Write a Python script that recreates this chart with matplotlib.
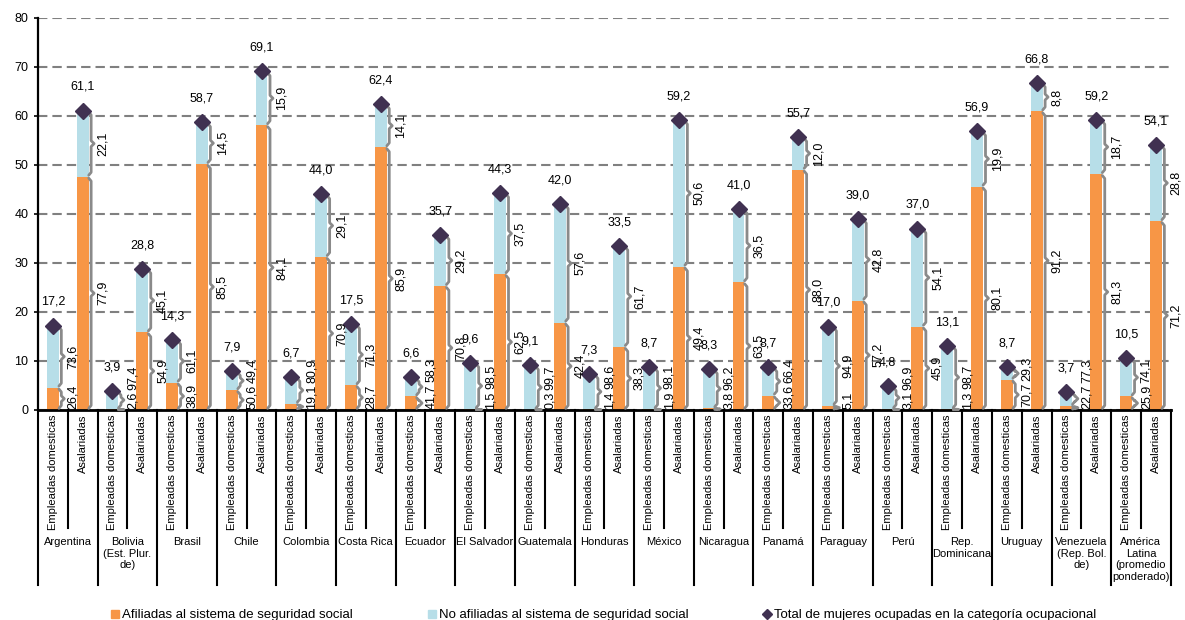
import matplotlib
matplotlib.use("Agg")
import matplotlib.pyplot as plt
from matplotlib.lines import Line2D
import numpy as np

plt.rcParams['font.family'] = ['Liberation Sans', 'DejaVu Sans']

countries = ["Argentina", "Bolivia\n(Est. Plur.\nde)", "Brasil", "Chile", "Colombia", "Costa Rica",
             "Ecuador", "El Salvador", "Guatemala", "Honduras", "México", "Nicaragua", "Panamá",
             "Paraguay", "Perú", "Rep.\nDominicana", "Uruguay", "Venezuela\n(Rep. Bol.\nde)",
             "América\nLatina\n(promedio\nponderado)"]
categories = ["Empleadas domesticas", "Asalariadas"]

# total de mujeres ocupadas (%)
total_dom = [17.2, 3.9, 14.3, 7.9, 6.7, 17.5, 6.6, 9.6, 9.1, 7.3, 8.7, 8.3, 8.7, 17.0, 4.8, 13.1, 8.7, 3.7, 10.5]
total_asal = [61.1, 28.8, 58.7, 69.1, 44.0, 62.4, 35.7, 44.3, 42.0, 33.5, 59.2, 41.0, 55.7, 39.0, 37.0, 56.9, 66.8, 59.2, 54.1]
# share affiliated / not affiliated within each category (%)
afil_dom = [26.4, 2.6, 38.9, 50.6, 19.1, 28.7, 41.7, 1.5, 0.3, 1.4, 1.9, 3.8, 33.6, 5.1, 3.1, 1.3, 70.7, 22.7, 25.9]
noafil_dom = [73.6, 97.4, 61.1, 49.4, 80.9, 71.3, 58.3, 98.5, 99.7, 98.6, 98.1, 96.2, 66.4, 94.9, 96.9, 98.7, 29.3, 77.3, 74.1]
afil_asal = [77.9, 54.9, 85.5, 84.1, 70.9, 85.9, 70.8, 62.5, 42.4, 38.3, 49.4, 63.5, 88.0, 57.2, 45.9, 80.1, 91.2, 81.3, 71.2]
noafil_asal = [22.1, 45.1, 14.5, 15.9, 29.1, 14.1, 29.2, 37.5, 57.6, 61.7, 50.6, 36.5, 12.0, 42.8, 54.1, 19.9, 8.8, 18.7, 28.8]

ORANGE = '#F79646'
BLUE = '#B7DEE8'
PURPLE = '#403151'
GRAY = '#8a8a8a'


def fmt(v):
    return f"{v:.1f}".replace('.', ',')


# interleave the two categories per country
total = np.ravel(np.column_stack([total_dom, total_asal]))
p_afil = np.ravel(np.column_stack([afil_dom, afil_asal]))
p_noafil = np.ravel(np.column_stack([noafil_dom, noafil_asal]))
orange = total * p_afil / 100
blue = total - orange
x = np.arange(len(total))

fig = plt.figure(figsize=(11.85, 6.2), dpi=100)
ax = fig.add_axes([0.032, 0.339, 0.956, 0.632])

ax.set_ylim(0, 80)
ax.set_xlim(-0.5, len(total) - 0.5)
ax.set_yticks(np.arange(0, 81, 10))
ax.yaxis.grid(True, color='#808080', linestyle=(0, (4.5, 2.4)), linewidth=1.5)
ax.set_axisbelow(True)
for s in ['top', 'right']:
    ax.spines[s].set_visible(False)
ax.spines['left'].set_linewidth(1.6)
ax.spines['bottom'].set_linewidth(2.0)
ax.tick_params(axis='y', labelsize=9, length=3, width=1.2, pad=4)
ax.set_xticks([])

bw = 0.4
ax.bar(x, orange, bw, color=ORANGE, zorder=2)
ax.bar(x, blue, bw, bottom=orange, color=BLUE, zorder=2)
ax.plot(x, total, linestyle='none', marker='D', markersize=8.2, color=PURPLE, zorder=5)

for xi, t in zip(x, total):
    ax.annotate(fmt(t), (xi, t), xytext=(0, 17), textcoords='offset points',
                ha='center', va='center', fontsize=9, zorder=6)


def brace(xc, y0, y1):
    r = min(0.6, (y1 - y0) / 4)
    ins = min(0.3, (y1 - y0) / 6)
    y0, y1 = y0 + ins, y1 - ins
    ym = (y0 + y1) / 2
    xs = [xc - 0.08, xc, xc, xc + 0.1, xc, xc, xc - 0.08]
    ys = [y0, y0 + r, ym - r, ym, ym + r, y1 - r, y1]
    ax.plot(xs, ys, color=GRAY, linewidth=2.0, solid_joinstyle='round',
            solid_capstyle='round', zorder=3, clip_on=False)


def label_h(s):
    # approximate rotated text height in data units (9 pt)
    em = (0.556 * (len(s) - 1) + 0.278) * 12.5
    return em / (392 / 80)


for xi, o, b, po, pb in zip(x, orange, blue, p_afil, p_noafil):
    bx = xi + bw / 2 + 0.085
    brace(bx, 0, o)
    brace(bx, o, o + b)
    so, sb = fmt(po), fmt(pb)
    ho, hb = label_h(so), label_h(sb)
    yo = max(o / 2, ho / 2 + 0.2)
    yb = max(o + b / 2, yo + ho / 2 + hb / 2 + 0.4)
    lx = xi + 0.68
    ax.text(lx, yo, so, rotation=90, ha='center', va='center', fontsize=9, zorder=6)
    ax.text(lx, yb, sb, rotation=90, ha='center', va='center', fontsize=9, zorder=6)

# category axis with separators
tr = ax.get_xaxis_transform()
for i, xi in enumerate(x):
    ax.text(xi, -0.013, categories[i % 2], rotation=90, ha='center', va='top',
            fontsize=8, transform=tr)
for k in range(len(total) + 1):
    xs = k - 0.5
    y_end = -0.446 if k % 2 == 0 else -0.301
    ax.add_line(Line2D([xs, xs], [0, y_end], color='black', linewidth=1.5,
                       transform=tr, clip_on=False))
for i, name in enumerate(countries):
    ax.text(2 * i + 0.5, -0.325, name, ha='center', va='top', fontsize=8,
            linespacing=1.2, transform=tr)

handles = [Line2D([], [], linestyle='none', marker='s', markersize=5.5, color=ORANGE),
           Line2D([], [], linestyle='none', marker='s', markersize=5.5, color=BLUE),
           Line2D([], [], linestyle='none', marker='D', markersize=5, color=PURPLE)]
labels = ["Afiliadas al sistema de seguridad social",
          "No afiliadas al sistema de seguridad social",
          "Total de mujeres ocupadas en la categoría ocupacional"]
fig.legend(handles, labels, loc='center', bbox_to_anchor=(0.509, 0.008), ncol=3,
           frameon=False, fontsize=9.5, columnspacing=5.6, handletextpad=0.1,
           handlelength=0.8, borderpad=0)

fig.savefig('out.png', dpi=100)
